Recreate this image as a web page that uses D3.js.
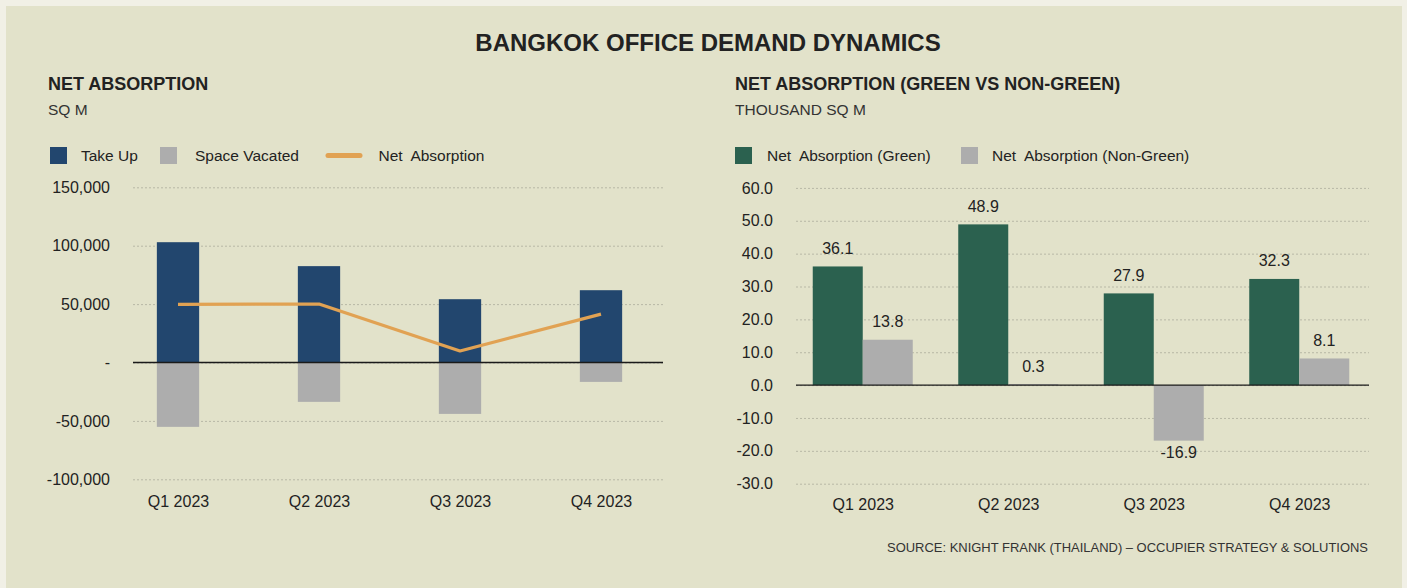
<!DOCTYPE html>
<html><head><meta charset="utf-8">
<script src="https://cdn.jsdelivr.net/npm/d3@7"></script>
<style>
html,body{margin:0;padding:0;background:#f1f0e6;}
svg{display:block;font-family:"Liberation Sans",Arial,sans-serif;}
</style></head>
<body>
<svg id="chart" width="1407" height="588"></svg>
<script>
// ---- data ----
const quarters = ["Q1 2023","Q2 2023","Q3 2023","Q4 2023"];
const takeUp = [103000, 82500, 54200, 61900];
const spaceVacated = [-55100, -33700, -44000, -16600];
const netAbsorption = [49700, 50100, 9900, 41400];
const leftTicks = [-100000, -50000, 0, 50000, 100000, 150000];

const greenNet = [36.1, 48.9, 27.9, 32.3];
const nonGreenNet = [13.8, 0.3, -16.9, 8.1];
const rightTicks = [-30, -20, -10, 0, 10, 20, 30, 40, 50, 60];

const C = {navy:"#22466e", gray:"#adadad", orange:"#e1a253", green:"#2b614f",
           text:"#222222", grid:"#b8b8a6", panel:"#e2e2ca"};

const svg = d3.select("#chart");
svg.append("rect").attr("x",6).attr("y",6).attr("width",1396).attr("height",590).attr("fill",C.panel);

// titles
svg.append("text").attr("x",708).attr("y",42).attr("text-anchor","middle").attr("dominant-baseline","central")
  .attr("font-size",24).attr("font-weight","bold").attr("fill",C.text).text("BANGKOK OFFICE DEMAND DYNAMICS");

function heading(x, t1, t2){
  svg.append("text").attr("x",x).attr("y",84).attr("dominant-baseline","central")
    .attr("font-size",18).attr("font-weight","bold").attr("fill",C.text).text(t1);
  svg.append("text").attr("x",x).attr("y",109).attr("dominant-baseline","central")
    .attr("font-size",15.5).attr("fill","#333").text(t2);
}
heading(48, "NET ABSORPTION", "SQ M");
heading(735, "NET ABSORPTION (GREEN VS NON-GREEN)", "THOUSAND SQ M");

// legends
function legendRect(x, color, label, tx){
  svg.append("rect").attr("x",x).attr("y",147).attr("width",17).attr("height",17).attr("fill",color);
  svg.append("text").attr("x",tx).attr("y",155.5).attr("dominant-baseline","central")
    .attr("font-size",15.5).attr("fill",C.text).attr("xml:space","preserve").text(label);
}
legendRect(50, C.navy, "Take Up", 81);
legendRect(160, C.gray, "Space Vacated", 195);
svg.append("line").attr("x1",328).attr("x2",360).attr("y1",155.5).attr("y2",155.5)
  .attr("stroke",C.orange).attr("stroke-width",5).attr("stroke-linecap","round");
svg.append("text").attr("x",378.5).attr("y",155.5).attr("dominant-baseline","central")
  .attr("font-size",15.5).attr("fill",C.text).attr("xml:space","preserve").text("Net  Absorption");
legendRect(735, C.green, "Net  Absorption (Green)", 767);
legendRect(961, C.gray, "Net  Absorption (Non-Green)", 992);

function styleAxis(g){
  g.select(".domain").remove();
  g.selectAll(".tick line").attr("stroke",C.grid).attr("stroke-dasharray","2,2").attr("stroke-width",1);
  g.selectAll(".tick text").attr("fill",C.text).attr("font-size",16).attr("font-family","Liberation Sans, Arial, sans-serif");
}

// ---- left chart ----
const yL = d3.scaleLinear().domain([-100000,150000]).range([479.3,187.3]);
const xL = d3.scalePoint().domain(quarters).range([107.5,671.5]).padding(0.5);
const gL0 = 133, gL1 = 663;
const bwL = xL.step()*0.3;

svg.append("g").attr("transform",`translate(${gL0},0)`)
  .call(d3.axisLeft(yL).tickValues(leftTicks).tickSize(-(gL1-gL0)).tickPadding(23)
    .tickFormat(d => d === 0 ? "-" : d3.format(",")(d).replace("−","-")))
  .call(styleAxis);

svg.append("g").selectAll("rect").data(quarters).join("rect")
  .attr("x",d=>xL(d)-bwL/2).attr("width",bwL)
  .attr("y",(d,i)=>yL(takeUp[i])).attr("height",(d,i)=>yL(0)-yL(takeUp[i])).attr("fill",C.navy);
svg.append("g").selectAll("rect").data(quarters).join("rect")
  .attr("x",d=>xL(d)-bwL/2).attr("width",bwL)
  .attr("y",yL(0)).attr("height",(d,i)=>yL(spaceVacated[i])-yL(0)).attr("fill",C.gray);
svg.append("line").attr("x1",gL0).attr("x2",gL1).attr("y1",yL(0)).attr("y2",yL(0)).attr("stroke","#1a1a1a").attr("stroke-width",1.3);
svg.append("path").datum(quarters)
  .attr("d", d3.line().x(d=>xL(d)).y((d,i)=>yL(netAbsorption[i])))
  .attr("fill","none").attr("stroke",C.orange).attr("stroke-width",3.2).attr("stroke-linejoin","round");

svg.append("g").attr("transform","translate(0,496)")
  .call(d3.axisBottom(xL).tickSize(0).tickPadding(0)).call(styleAxis);

// ---- right chart ----
const yR = d3.scaleLinear().domain([-30,60]).range([483.7,187.9]);
const xR = d3.scalePoint().domain(quarters).range([790,1372]).padding(0.5);
const gR0 = 796, gR1 = 1369;
const bwR = 50;

svg.append("g").attr("transform",`translate(${gR0},0)`)
  .call(d3.axisLeft(yR).tickValues(rightTicks).tickSize(-(gR1-gR0)).tickPadding(23)
    .tickFormat(d => d3.format(".1f")(d).replace("−","-")))
  .call(styleAxis);

svg.append("g").selectAll("rect").data(quarters).join("rect")
  .attr("x",d=>xR(d)-bwR).attr("width",bwR)
  .attr("y",(d,i)=>yR(Math.max(0,greenNet[i]))).attr("height",(d,i)=>Math.abs(yR(greenNet[i])-yR(0)))
  .attr("fill",C.green);
svg.append("g").selectAll("rect").data(quarters).join("rect")
  .attr("x",d=>xR(d)).attr("width",bwR)
  .attr("y",(d,i)=>yR(Math.max(0,nonGreenNet[i]))).attr("height",(d,i)=>Math.abs(yR(nonGreenNet[i])-yR(0)))
  .attr("fill",C.gray);
svg.append("line").attr("x1",gR0).attr("x2",gR1).attr("y1",yR(0)).attr("y2",yR(0)).attr("stroke","#1a1a1a").attr("stroke-width",1.3);

function valLabels(vals, dx){
  svg.append("g").selectAll("text").data(quarters).join("text")
    .attr("x",d=>xR(d)+dx).attr("y",(d,i)=> vals[i]>=0 ? yR(vals[i])-18 : yR(vals[i])+12)
    .attr("text-anchor","middle").attr("dominant-baseline","central")
    .attr("font-size",16).attr("fill",C.text)
    .text((d,i)=>d3.format(".1f")(vals[i]).replace("−","-"));
}
valLabels(greenNet, -bwR/2);
valLabels(nonGreenNet, bwR/2);

svg.append("g").attr("transform","translate(0,499)")
  .call(d3.axisBottom(xR).tickSize(0).tickPadding(0)).call(styleAxis);

svg.append("text").attr("x",1368).attr("y",547).attr("text-anchor","end").attr("dominant-baseline","central")
  .attr("font-size",13).attr("fill","#333").attr("textLength",481).attr("lengthAdjust","spacingAndGlyphs")
  .text("SOURCE: KNIGHT FRANK (THAILAND) – OCCUPIER STRATEGY & SOLUTIONS");
</script>
</body></html>
